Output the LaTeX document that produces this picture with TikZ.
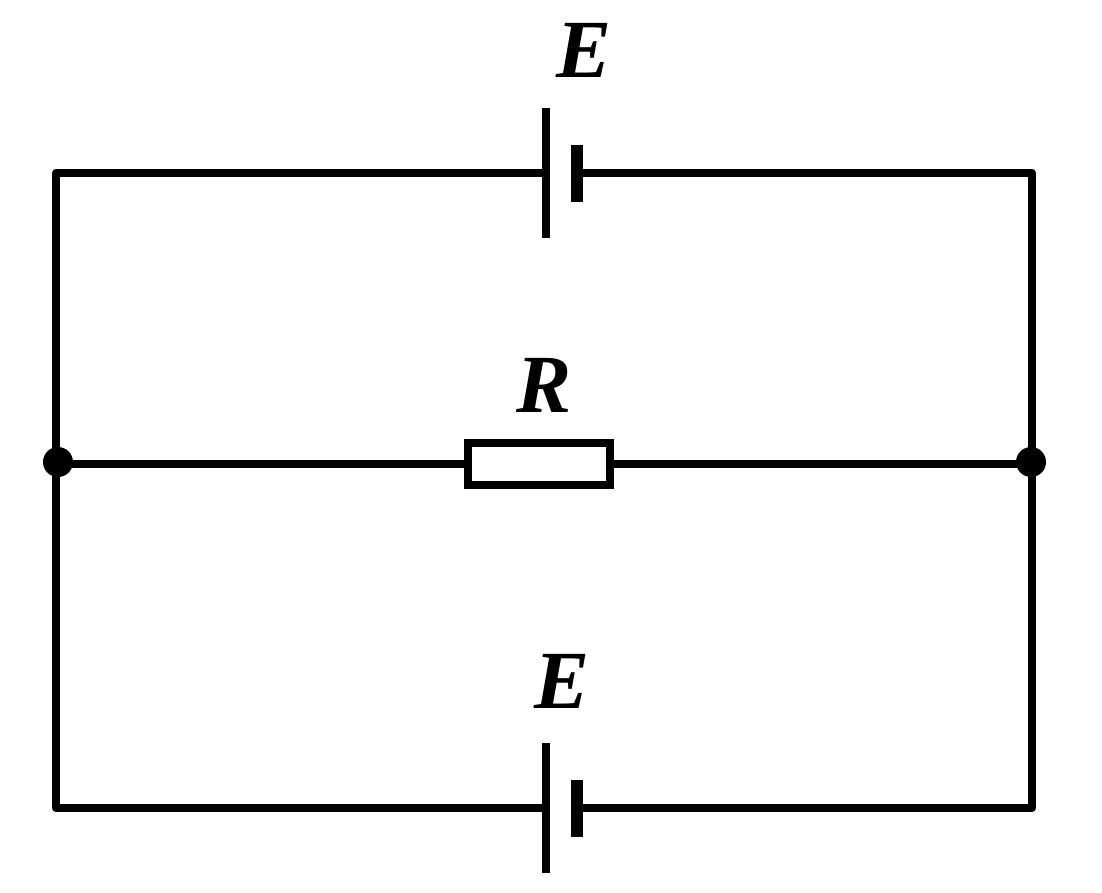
\documentclass[tikz,border=0pt]{standalone}
\usepackage{fontspec}
\setmainfont{Liberation Serif}
\tikzset{
 px/.style={x=0.75pt,y=-0.75pt},
 wire/.style={line width=6pt,line cap=round,line join=round,black},
 plate/.style={line width=6pt,black},
 thick plate/.style={line width=9pt,black},
 lbl/.style={font=\bfseries\itshape\fontsize{62}{62}\selectfont,inner sep=0pt,text=black},
 dotn/.style={circle,fill=black,minimum size=22.5pt,inner sep=0pt},
 res/.style={draw=black,line width=6pt,fill=white,minimum width=106.5pt,minimum height=31.5pt,inner sep=0pt}
}
\begin{document}
\begin{tikzpicture}[px]
\useasboundingbox (0,0) rectangle (1102,892);
\coordinate (tl) at (56,173);
\coordinate (tr) at (1032,173);
\coordinate (bl) at (56,808);
\coordinate (br) at (1032,808);
\coordinate (b1l) at (546,173);
\coordinate (b1r) at (577,173);
\coordinate (b2l) at (546,808);
\coordinate (b2r) at (577,808);
\node[dotn] (jl) at (58,462) {};
\node[dotn] (jr) at (1031,462) {};
\node[res] (r) at (539,463.5) {};
\draw[wire] (b1l) -- (tl) -- (bl) -- (b2l);
\draw[wire] (b1r) -- (tr) -- (br) -- (b2r);
\draw[wire] (jl |- r.west) -- (r.west);
\draw[wire] (r.east) -- (jr |- r.east);
\draw[plate] (546,108) -- (546,238);
\draw[thick plate] (577,145) -- (577,202);
\draw[plate] (546,743) -- (546,873);
\draw[thick plate] (577,780) -- (577,837);
\node[lbl] (e1) at (584,50.5) {E};
\node[lbl] (rl) at (544,385.5) {R};
\node[lbl] (e2) at (562,681) {E};
\end{tikzpicture}
\end{document}
